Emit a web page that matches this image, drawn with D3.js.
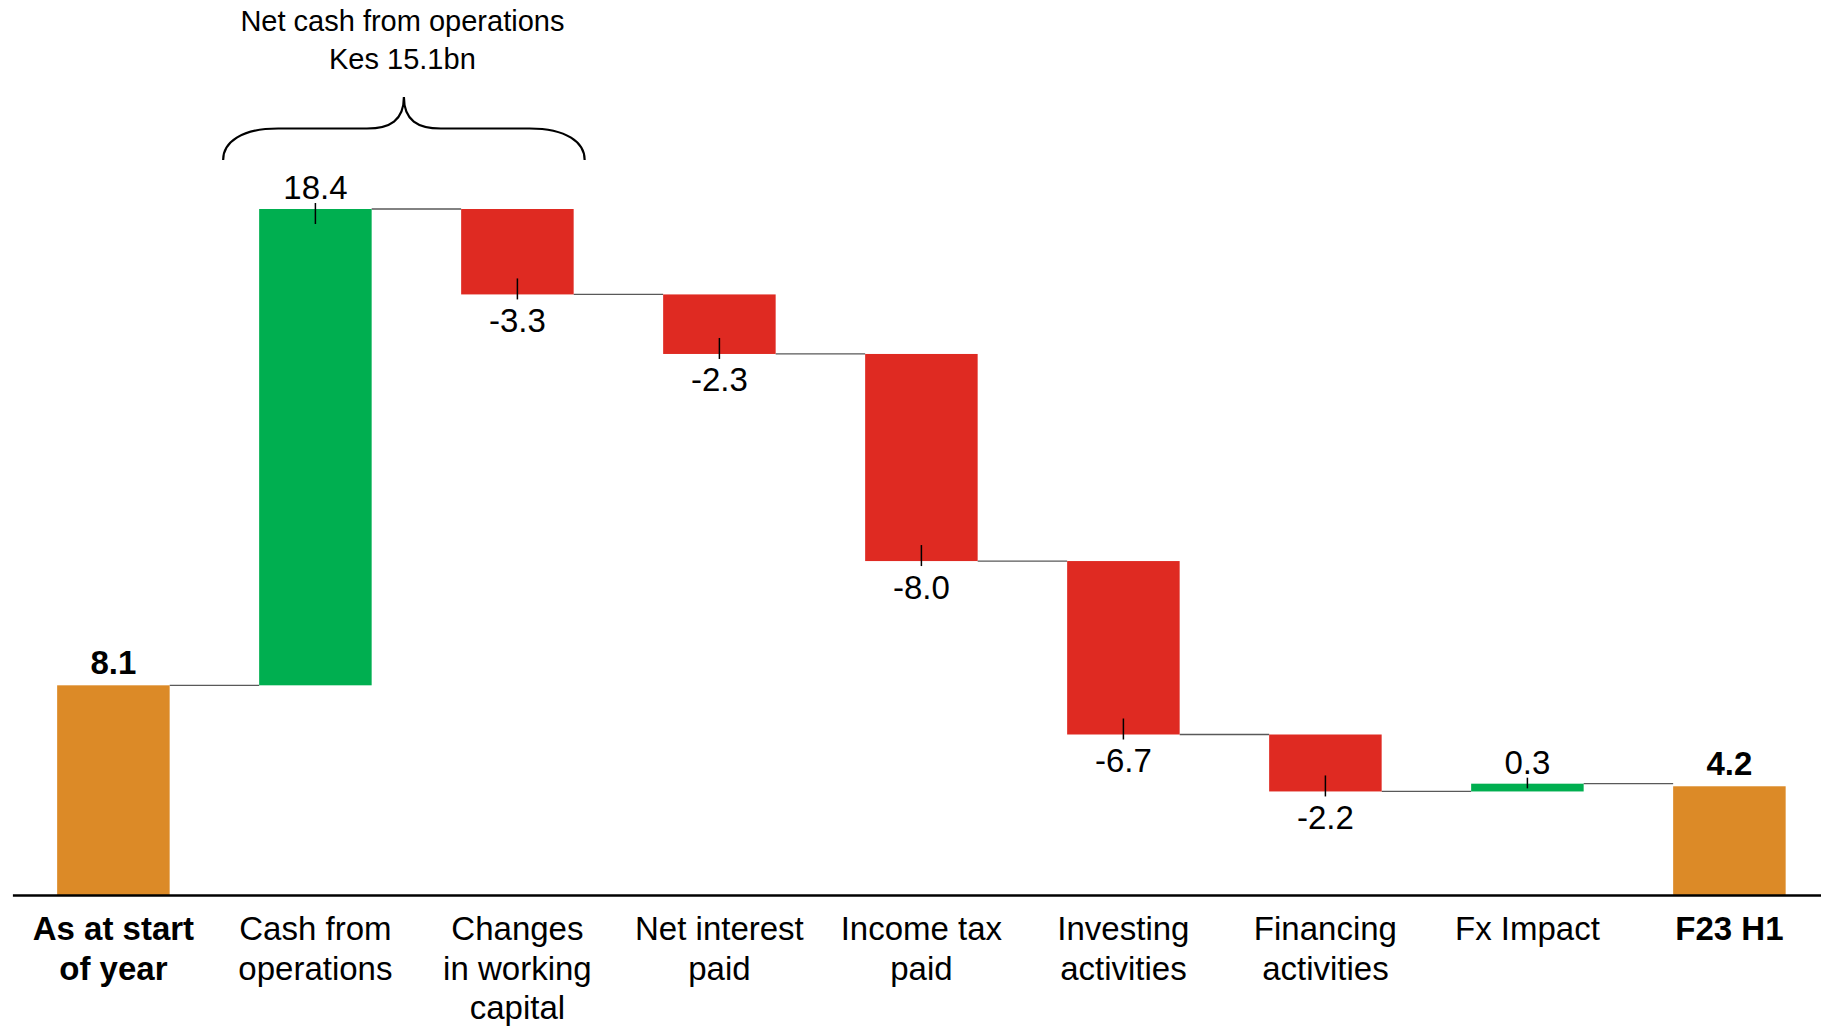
<!DOCTYPE html>
<html>
<head>
<meta charset="utf-8">
<script src="https://cdn.jsdelivr.net/npm/d3@7"></script>
<style>
  html, body { margin: 0; padding: 0; background: #ffffff; }
  svg { display: block; font-family: "Liberation Sans", Arial, sans-serif; }
</style>
</head>
<body>
<svg id="chart" width="1821" height="1031"></svg>
<script>
// Cash bridge: opening balance, movements, closing balance (Kes bn)
const categoryLines = [
  ["As at start", "of year"],
  ["Cash from", "operations"],
  ["Changes", "in working", "capital"],
  ["Net interest", "paid"],
  ["Income tax", "paid"],
  ["Investing", "activities"],
  ["Financing", "activities"],
  ["Fx Impact"],
  ["F23 H1"]
];
const categories = categoryLines.map(l => l.join(" "));
const values = [8.1, 18.4, -3.3, -2.3, -8.0, -6.7, -2.2, 0.3, 4.2];
const barTypes = ["total", "delta", "delta", "delta", "delta", "delta", "delta", "delta", "total"];

const annotationLines = ["Net cash from operations", "Kes 15.1bn"];
const bracketCategories = ["Cash from operations", "Changes in working capital"];

const colors = { total: "#DC8A27", up: "#00AF50", down: "#DF2A22" };

// Running totals -> start/end for each bar
let running = 0;
const bars = categories.map((c, i) => {
  const v = values[i];
  let start, end;
  if (barTypes[i] === "total") { start = 0; end = v; }
  else { start = running; end = running + v; }
  running = end;
  return { cat: c, value: v, type: barTypes[i], start, end, lo: Math.min(start, end), hi: Math.max(start, end) };
});

const svg = d3.select("#chart");
const baseY = 895;

const x = d3.scaleBand()
  .domain(categories)
  .range([12.4, 1830.4])
  .paddingInner(0.443)
  .paddingOuter(0.2215);

const y = d3.scaleLinear()
  .domain([0, d3.max(bars, d => d.hi)])
  .range([baseY, 209]);

const bw = x.bandwidth();

// Connectors between consecutive bars
const links = bars.slice(0, -1).map((b, i) => ({ from: b, to: bars[i + 1] }));
svg.append("g")
  .selectAll("line")
  .data(links)
  .join("line")
  .attr("x1", d => x(d.from.cat) + bw)
  .attr("x2", d => x(d.to.cat))
  .attr("y1", d => y(d.from.end))
  .attr("y2", d => y(d.from.end))
  .attr("stroke", "#595959")
  .attr("stroke-width", 1.3);

// Bars
svg.append("g")
  .selectAll("rect")
  .data(bars)
  .join("rect")
  .attr("x", d => x(d.cat))
  .attr("width", bw)
  .attr("y", d => y(d.hi))
  .attr("height", d => y(d.lo) - y(d.hi))
  .attr("fill", d => d.type === "total" ? colors.total : (d.value >= 0 ? colors.up : colors.down));

// Small marker ticks on movement bars
const deltas = bars.filter(d => d.type === "delta");
svg.append("g")
  .selectAll("line")
  .data(deltas)
  .join("line")
  .attr("x1", d => x(d.cat) + bw / 2)
  .attr("x2", d => x(d.cat) + bw / 2)
  .attr("y1", d => {
    const h = y(d.lo) - y(d.hi);
    return d.value >= 0 ? y(d.hi) - 6 : y(d.lo) - Math.min(16, h * 0.6);
  })
  .attr("y2", d => {
    const h = y(d.lo) - y(d.hi);
    return d.value >= 0 ? y(d.hi) + Math.min(15, h * 0.6) : y(d.lo) + 5;
  })
  .attr("stroke", "#000")
  .attr("stroke-width", 1.5);

// Value labels
svg.append("g")
  .selectAll("text")
  .data(bars)
  .join("text")
  .attr("x", d => x(d.cat) + bw / 2)
  .attr("y", d => {
    if (d.type === "total") return y(d.hi) - 11.5;
    return d.value >= 0 ? y(d.hi) - 10 : y(d.lo) + 37.5;
  })
  .attr("text-anchor", "middle")
  .attr("font-size", 33)
  .attr("font-weight", d => d.type === "total" ? "bold" : "normal")
  .attr("fill", "#000")
  .text(d => d.value.toFixed(1));

// Category axis
const axis = d3.axisBottom(x).tickSize(0).tickSizeOuter(0).tickFormat(() => "");
const gx = svg.append("g")
  .attr("transform", `translate(0,${baseY})`)
  .call(axis);
gx.select(".domain").attr("stroke", "#000").attr("stroke-width", 2.5);
gx.selectAll(".tick text").each(function(d, i) {
  const t = d3.select(this)
    .attr("y", null).attr("dy", null)
    .attr("fill", "#000")
    .attr("font-size", 33)
    .attr("font-family", "'Liberation Sans', Arial, sans-serif")
    .attr("font-weight", barTypes[i] === "total" ? "bold" : "normal");
  categoryLines[i].forEach((line, k) => {
    t.append("tspan").attr("x", 0).attr("y", 45 + k * 39.5).text(line);
  });
});

// Brace over the operating cash flow bars
const bL = x(bracketCategories[0]) - 36;
const bR = x(bracketCategories[1]) + bw + 11;
const bM = (bL + bR) / 2;
const yEnd = 160, yFlat = 128.5, yPeak = 97;
const brace = d3.path();
brace.moveTo(bL, yEnd);
brace.bezierCurveTo(bL, yFlat + 14, bL + 18, yFlat, bL + 55, yFlat);
brace.lineTo(bM - 37, yFlat);
brace.bezierCurveTo(bM - 14, yFlat, bM, yFlat - 8, bM, yPeak);
brace.bezierCurveTo(bM, yFlat - 8, bM + 14, yFlat, bM + 37, yFlat);
brace.lineTo(bR - 55, yFlat);
brace.bezierCurveTo(bR - 18, yFlat, bR, yFlat + 14, bR, yEnd);
svg.append("path")
  .attr("d", brace.toString())
  .attr("fill", "none")
  .attr("stroke", "#000")
  .attr("stroke-width", 2.2);

// Annotation above the brace
svg.append("g")
  .selectAll("text")
  .data(annotationLines)
  .join("text")
  .attr("x", bM - 1.5)
  .attr("y", (d, i) => 31 + i * 38)
  .attr("text-anchor", "middle")
  .attr("font-size", 29)
  .attr("fill", "#000")
  .text(d => d);
</script>
</body>
</html>
